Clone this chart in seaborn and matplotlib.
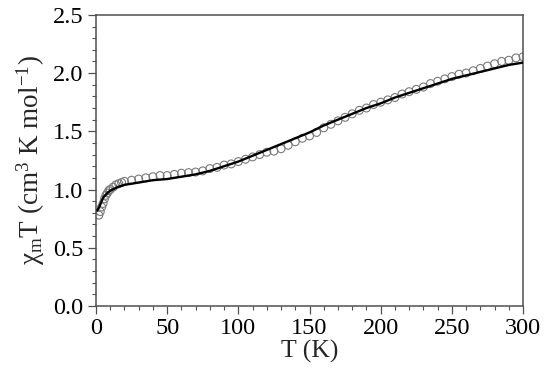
import matplotlib
matplotlib.use("Agg")
import matplotlib.pyplot as plt
import pandas as pd
import seaborn as sns
from matplotlib.ticker import MultipleLocator

# measured chi_m*T (open circles)
t_exp = [2, 3, 4, 5, 6, 7, 8, 9, 10, 12, 14, 16, 18, 20, 25, 30, 35, 40, 45,
         50, 55, 60, 65, 70, 75, 80, 85, 90, 95, 100, 105, 110, 115, 120,
         125, 130, 135, 140, 145, 150, 155, 160, 165, 170, 175, 180, 185,
         190, 195, 200, 205, 210, 215, 220, 225, 230, 235, 240, 245, 250,
         255, 260, 265, 270, 275, 280, 285, 290, 295, 300]
chi_exp = [0.78, 0.81, 0.85, 0.88, 0.92, 0.95, 0.97, 0.99, 1.00, 1.02, 1.04,
           1.05, 1.06, 1.07, 1.08, 1.09, 1.10, 1.11, 1.12, 1.12, 1.13, 1.14,
           1.145, 1.15, 1.16, 1.18, 1.19, 1.21, 1.22, 1.24, 1.26, 1.28, 1.30,
           1.32, 1.33, 1.35, 1.38, 1.41, 1.44, 1.46, 1.49, 1.53, 1.56, 1.59,
           1.62, 1.65, 1.68, 1.70, 1.73, 1.75, 1.77, 1.79, 1.82, 1.84, 1.86,
           1.88, 1.91, 1.93, 1.95, 1.97, 1.99, 2.00, 2.02, 2.04, 2.06, 2.08,
           2.10, 2.11, 2.13, 2.14]

# fitted curve (solid line)
t_fit = [1, 3, 5, 8, 10, 15, 20, 30, 40, 50, 60, 70, 80, 90, 100, 110, 120,
         130, 140, 150, 160, 170, 180, 190, 200, 210, 220, 230, 240, 250,
         260, 270, 280, 290, 300]
chi_fit = [0.82, 0.87, 0.93, 0.97, 0.99, 1.02, 1.04, 1.06, 1.08, 1.09, 1.11,
           1.13, 1.16, 1.20, 1.24, 1.29, 1.34, 1.39, 1.44, 1.49, 1.55, 1.60,
           1.65, 1.70, 1.74, 1.79, 1.83, 1.87, 1.91, 1.95, 1.98, 2.01, 2.04,
           2.07, 2.09]

exp = pd.DataFrame({"T": t_exp, "chiT": chi_exp})
fit = pd.DataFrame({"T": t_fit, "chiT": chi_fit})

sns.set_theme(style="ticks")
plt.rcParams["font.family"] = ["Liberation Serif", "DejaVu Serif"]
plt.rcParams["mathtext.fontset"] = "custom"
plt.rcParams["mathtext.rm"] = "Liberation Serif"
plt.rcParams["mathtext.it"] = "Liberation Serif"

fig = plt.figure(figsize=(5.5, 3.81), dpi=100)
ax = fig.add_axes([0.1745, 0.197, 0.7765, 0.764])

sns.scatterplot(data=exp, x="T", y="chiT", ax=ax, marker="o", s=32,
                facecolor="none", edgecolor="#7a7a7a", linewidth=0.8,
                zorder=2)
sns.lineplot(data=fit, x="T", y="chiT", ax=ax, color="black", linewidth=1.7,
             zorder=3)

ax.set_xlim(0, 300)
ax.set_ylim(0, 2.5)
ax.xaxis.set_major_locator(MultipleLocator(50))
ax.xaxis.set_minor_locator(MultipleLocator(10))
ax.yaxis.set_major_locator(MultipleLocator(0.5))
ax.yaxis.set_minor_locator(MultipleLocator(0.1))
ax.yaxis.set_major_formatter(matplotlib.ticker.FormatStrFormatter("%.1f"))

for s in ax.spines.values():
    s.set_color("#505050")
    s.set_linewidth(1.1)
ax.tick_params(which="major", length=6, width=0.9, color="#505050",
               labelsize=17.5, pad=3, colors="black")
ax.tick_params(which="minor", length=3, width=0.8, color="#505050")
ax.tick_params(which="both", top=False, right=False, direction="out")

ax.set_xlabel("T (K)", fontsize=18.5, labelpad=0)
ax.set_ylabel(r"χ$_\mathregular{m}$T (cm$^\mathregular{3}$ K mol$^\mathregular{-1}$)",
              fontsize=19.5, labelpad=4)

fig.savefig("out.png", dpi=100)
